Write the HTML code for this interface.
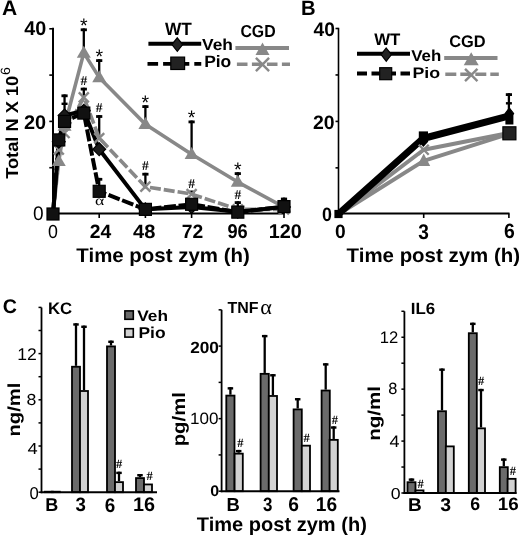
<!DOCTYPE html>
<html><head><meta charset="utf-8"><style>
html,body{margin:0;padding:0;background:#fff;}
svg{display:block;font-family:"Liberation Sans", sans-serif;text-rendering:geometricPrecision;filter:blur(0.4px);}
</style></head><body>
<svg width="520" height="536" viewBox="0 0 520 536">
<rect width="520" height="536" fill="#fff"/>
<text x="2.10" y="14.63" font-size="21.17" font-weight="bold" textLength="15.19" lengthAdjust="spacingAndGlyphs">A</text>
<text x="24.21" y="35.37" font-size="19.84" font-weight="bold" textLength="22.00" lengthAdjust="spacingAndGlyphs">40</text>
<text x="24.04" y="128.54" font-size="19.67" font-weight="bold" textLength="22.16" lengthAdjust="spacingAndGlyphs">20</text>
<text x="33.06" y="220.49" font-size="19.58" font-weight="normal" textLength="10.62" lengthAdjust="spacingAndGlyphs">0</text>
<text x="47.93" y="238.13" font-size="18.85" font-weight="normal" textLength="9.90" lengthAdjust="spacingAndGlyphs">0</text>
<text x="89.89" y="237.61" font-size="19.22" font-weight="bold" textLength="21.47" lengthAdjust="spacingAndGlyphs">24</text>
<text x="132.96" y="237.87" font-size="19.19" font-weight="bold" textLength="22.36" lengthAdjust="spacingAndGlyphs">48</text>
<text x="181.87" y="237.61" font-size="19.27" font-weight="bold" textLength="21.47" lengthAdjust="spacingAndGlyphs">72</text>
<text x="227.42" y="237.95" font-size="19.96" font-weight="bold" textLength="20.25" lengthAdjust="spacingAndGlyphs">96</text>
<text x="268.79" y="238.15" font-size="19.85" font-weight="bold" textLength="33.10" lengthAdjust="spacingAndGlyphs">120</text>
<text x="76.33" y="262.33" font-size="19.80" font-weight="bold" textLength="173.44" lengthAdjust="spacingAndGlyphs">Time post zym (h)</text>
<text x="0" y="0" font-size="17.34" font-weight="bold" textLength="102.97" lengthAdjust="spacingAndGlyphs" transform="translate(17.63 178.84) rotate(-90)">Total N X 10</text>
<text x="0" y="0" font-size="13.49" font-weight="normal" textLength="7.98" lengthAdjust="spacingAndGlyphs" transform="translate(9.89 75.12) rotate(-90)">6</text>
<text x="164.92" y="35.39" font-size="17.80" font-weight="bold" textLength="26.82" lengthAdjust="spacingAndGlyphs">WT</text>
<text x="240.40" y="36.85" font-size="17.38" font-weight="bold" textLength="35.18" lengthAdjust="spacingAndGlyphs">CGD</text>
<text x="202.02" y="50.28" font-size="15.94" font-weight="bold" textLength="30.91" lengthAdjust="spacingAndGlyphs">Veh</text>
<text x="204.15" y="67.07" font-size="16.53" font-weight="bold" textLength="27.15" lengthAdjust="spacingAndGlyphs">Pio</text>
<line x1="53.00" y1="27.80" x2="53.00" y2="214.50" stroke="#000" stroke-width="2" stroke-linecap="butt"/>
<line x1="52.00" y1="213.50" x2="284.50" y2="213.50" stroke="#000" stroke-width="2" stroke-linecap="butt"/>
<line x1="49.30" y1="28.80" x2="53.00" y2="28.80" stroke="#000" stroke-width="1.6" stroke-linecap="butt"/>
<line x1="49.30" y1="75.10" x2="53.00" y2="75.10" stroke="#000" stroke-width="1.6" stroke-linecap="butt"/>
<line x1="49.30" y1="121.40" x2="53.00" y2="121.40" stroke="#000" stroke-width="1.6" stroke-linecap="butt"/>
<line x1="49.30" y1="167.70" x2="53.00" y2="167.70" stroke="#000" stroke-width="1.6" stroke-linecap="butt"/>
<line x1="49.30" y1="214.00" x2="53.00" y2="214.00" stroke="#000" stroke-width="1.6" stroke-linecap="butt"/>
<line x1="53.00" y1="213.50" x2="53.00" y2="218.00" stroke="#000" stroke-width="1.6" stroke-linecap="butt"/>
<line x1="99.20" y1="213.50" x2="99.20" y2="218.00" stroke="#000" stroke-width="1.6" stroke-linecap="butt"/>
<line x1="145.40" y1="213.50" x2="145.40" y2="218.00" stroke="#000" stroke-width="1.6" stroke-linecap="butt"/>
<line x1="191.60" y1="213.50" x2="191.60" y2="218.00" stroke="#000" stroke-width="1.6" stroke-linecap="butt"/>
<line x1="237.80" y1="213.50" x2="237.80" y2="218.00" stroke="#000" stroke-width="1.6" stroke-linecap="butt"/>
<line x1="284.00" y1="213.50" x2="284.00" y2="218.00" stroke="#000" stroke-width="1.6" stroke-linecap="butt"/>
<line x1="83.80" y1="52.88" x2="83.80" y2="28.40" stroke="#000" stroke-width="2.3" stroke-linecap="butt"/>
<line x1="80.70" y1="29.80" x2="86.90" y2="29.80" stroke="#000" stroke-width="2.8" stroke-linecap="butt"/>
<line x1="99.20" y1="77.41" x2="99.20" y2="59.20" stroke="#000" stroke-width="2.3" stroke-linecap="butt"/>
<line x1="96.10" y1="60.60" x2="102.30" y2="60.60" stroke="#000" stroke-width="2.8" stroke-linecap="butt"/>
<line x1="145.40" y1="124.18" x2="145.40" y2="105.20" stroke="#000" stroke-width="2.3" stroke-linecap="butt"/>
<line x1="142.30" y1="106.60" x2="148.50" y2="106.60" stroke="#000" stroke-width="2.8" stroke-linecap="butt"/>
<line x1="191.60" y1="154.27" x2="191.60" y2="120.50" stroke="#000" stroke-width="2.3" stroke-linecap="butt"/>
<line x1="188.50" y1="121.90" x2="194.70" y2="121.90" stroke="#000" stroke-width="2.8" stroke-linecap="butt"/>
<line x1="237.80" y1="182.05" x2="237.80" y2="172.20" stroke="#000" stroke-width="2.3" stroke-linecap="butt"/>
<line x1="234.70" y1="173.60" x2="240.90" y2="173.60" stroke="#000" stroke-width="2.8" stroke-linecap="butt"/>
<line x1="83.80" y1="97.32" x2="83.80" y2="87.70" stroke="#000" stroke-width="2.3" stroke-linecap="butt"/>
<line x1="80.70" y1="89.10" x2="86.90" y2="89.10" stroke="#000" stroke-width="2.8" stroke-linecap="butt"/>
<line x1="99.20" y1="138.07" x2="99.20" y2="115.10" stroke="#000" stroke-width="2.3" stroke-linecap="butt"/>
<line x1="96.10" y1="116.50" x2="102.30" y2="116.50" stroke="#000" stroke-width="2.8" stroke-linecap="butt"/>
<line x1="145.40" y1="186.68" x2="145.40" y2="172.80" stroke="#000" stroke-width="2.3" stroke-linecap="butt"/>
<line x1="142.30" y1="174.20" x2="148.50" y2="174.20" stroke="#000" stroke-width="2.8" stroke-linecap="butt"/>
<line x1="191.60" y1="194.09" x2="191.60" y2="190.70" stroke="#000" stroke-width="2.3" stroke-linecap="butt"/>
<line x1="188.50" y1="192.10" x2="194.70" y2="192.10" stroke="#000" stroke-width="2.8" stroke-linecap="butt"/>
<line x1="237.80" y1="209.37" x2="237.80" y2="201.20" stroke="#000" stroke-width="2.3" stroke-linecap="butt"/>
<line x1="234.70" y1="202.60" x2="240.90" y2="202.60" stroke="#000" stroke-width="2.8" stroke-linecap="butt"/>
<line x1="64.55" y1="116.77" x2="64.55" y2="94.40" stroke="#000" stroke-width="2.3" stroke-linecap="butt"/>
<line x1="61.45" y1="95.80" x2="67.65" y2="95.80" stroke="#000" stroke-width="2.8" stroke-linecap="butt"/>
<line x1="61.55" y1="103.80" x2="67.55" y2="103.80" stroke="#000" stroke-width="2.4" stroke-linecap="butt"/>
<line x1="99.20" y1="190.85" x2="99.20" y2="177.90" stroke="#000" stroke-width="2.3" stroke-linecap="butt"/>
<line x1="96.10" y1="179.30" x2="102.30" y2="179.30" stroke="#000" stroke-width="2.8" stroke-linecap="butt"/>
<line x1="284.00" y1="207.06" x2="284.00" y2="197.60" stroke="#000" stroke-width="2.3" stroke-linecap="butt"/>
<line x1="280.90" y1="199.00" x2="287.10" y2="199.00" stroke="#000" stroke-width="2.8" stroke-linecap="butt"/>
<polyline points="53.00,214.00 58.77,161.22 64.55,126.03 83.80,52.88 99.20,77.41 145.40,124.18 191.60,154.27 237.80,182.05 284.00,207.06" fill="none" stroke="#888888" stroke-width="3.6" stroke-linejoin="round"/>
<polyline points="53.00,214.00 58.77,149.64 64.55,132.98 83.80,97.32 99.20,138.07 145.40,186.68 191.60,194.09 237.80,209.37 284.00,209.37" fill="none" stroke="#888888" stroke-width="3.6" stroke-linejoin="round" stroke-dasharray="11 3" stroke-dashoffset="0"/>
<polyline points="53.00,214.00 58.77,139.92 64.55,121.40 83.80,113.07 99.20,191.31 145.40,209.37 191.60,204.28 237.80,212.15 284.00,206.59" fill="none" stroke="#000" stroke-width="4" stroke-linejoin="round" stroke-dasharray="12 2.6" stroke-dashoffset="0"/>
<polyline points="53.00,214.00 58.77,141.77 64.55,115.38 83.80,110.75 99.20,149.18 145.40,209.37 191.60,207.06 237.80,211.69 284.00,207.06" fill="none" stroke="#000" stroke-width="4" stroke-linejoin="round"/>
<polygon points="58.77,154.02 65.78,166.02 51.77,166.02" fill="#888888"/>
<polygon points="64.55,118.83 71.55,130.83 57.55,130.83" fill="#888888"/>
<polygon points="83.80,45.68 90.80,57.68 76.80,57.68" fill="#888888"/>
<polygon points="99.20,70.21 106.20,82.21 92.20,82.21" fill="#888888"/>
<polygon points="145.40,116.98 152.40,128.98 138.40,128.98" fill="#888888"/>
<polygon points="191.60,147.07 198.60,159.07 184.60,159.07" fill="#888888"/>
<polygon points="237.80,174.85 244.80,186.85 230.80,186.85" fill="#888888"/>
<polygon points="284.00,199.86 291.00,211.86 277.00,211.86" fill="#888888"/>
<line x1="53.77" y1="144.64" x2="63.77" y2="154.64" stroke="#888888" stroke-width="2.4" stroke-linecap="butt"/>
<line x1="53.77" y1="154.64" x2="63.77" y2="144.64" stroke="#888888" stroke-width="2.4" stroke-linecap="butt"/>
<line x1="59.55" y1="127.98" x2="69.55" y2="137.98" stroke="#888888" stroke-width="2.4" stroke-linecap="butt"/>
<line x1="59.55" y1="137.98" x2="69.55" y2="127.98" stroke="#888888" stroke-width="2.4" stroke-linecap="butt"/>
<line x1="78.80" y1="92.32" x2="88.80" y2="102.32" stroke="#888888" stroke-width="2.4" stroke-linecap="butt"/>
<line x1="78.80" y1="102.32" x2="88.80" y2="92.32" stroke="#888888" stroke-width="2.4" stroke-linecap="butt"/>
<line x1="94.20" y1="133.07" x2="104.20" y2="143.07" stroke="#888888" stroke-width="2.4" stroke-linecap="butt"/>
<line x1="94.20" y1="143.07" x2="104.20" y2="133.07" stroke="#888888" stroke-width="2.4" stroke-linecap="butt"/>
<line x1="140.40" y1="181.68" x2="150.40" y2="191.68" stroke="#888888" stroke-width="2.4" stroke-linecap="butt"/>
<line x1="140.40" y1="191.68" x2="150.40" y2="181.68" stroke="#888888" stroke-width="2.4" stroke-linecap="butt"/>
<line x1="186.60" y1="189.09" x2="196.60" y2="199.09" stroke="#888888" stroke-width="2.4" stroke-linecap="butt"/>
<line x1="186.60" y1="199.09" x2="196.60" y2="189.09" stroke="#888888" stroke-width="2.4" stroke-linecap="butt"/>
<line x1="232.80" y1="204.37" x2="242.80" y2="214.37" stroke="#888888" stroke-width="2.4" stroke-linecap="butt"/>
<line x1="232.80" y1="214.37" x2="242.80" y2="204.37" stroke="#888888" stroke-width="2.4" stroke-linecap="butt"/>
<line x1="279.00" y1="204.37" x2="289.00" y2="214.37" stroke="#888888" stroke-width="2.4" stroke-linecap="butt"/>
<line x1="279.00" y1="214.37" x2="289.00" y2="204.37" stroke="#888888" stroke-width="2.4" stroke-linecap="butt"/>
<polygon points="58.77,135.37 65.17,141.77 58.77,148.17 52.38,141.77" fill="#1a1a1a" stroke="#000" stroke-width="1.2"/>
<polygon points="64.55,108.98 70.95,115.38 64.55,121.78 58.15,115.38" fill="#1a1a1a" stroke="#000" stroke-width="1.2"/>
<polygon points="83.80,104.35 90.20,110.75 83.80,117.15 77.40,110.75" fill="#1a1a1a" stroke="#000" stroke-width="1.2"/>
<polygon points="99.20,142.78 105.60,149.18 99.20,155.58 92.80,149.18" fill="#1a1a1a" stroke="#000" stroke-width="1.2"/>
<polygon points="145.40,202.97 151.80,209.37 145.40,215.77 139.00,209.37" fill="#1a1a1a" stroke="#000" stroke-width="1.2"/>
<polygon points="191.60,200.66 198.00,207.06 191.60,213.46 185.20,207.06" fill="#1a1a1a" stroke="#000" stroke-width="1.2"/>
<polygon points="237.80,205.28 244.20,211.69 237.80,218.09 231.40,211.69" fill="#1a1a1a" stroke="#000" stroke-width="1.2"/>
<polygon points="284.00,200.66 290.40,207.06 284.00,213.46 277.60,207.06" fill="#1a1a1a" stroke="#000" stroke-width="1.2"/>
<rect x="47.00" y="208.00" width="12.00" height="12.00" fill="#111" stroke="#000" stroke-width="1.2"/>
<rect x="52.77" y="133.92" width="12.00" height="12.00" fill="#111" stroke="#000" stroke-width="1.2"/>
<rect x="58.55" y="115.40" width="12.00" height="12.00" fill="#111" stroke="#000" stroke-width="1.2"/>
<rect x="77.80" y="107.07" width="12.00" height="12.00" fill="#111" stroke="#000" stroke-width="1.2"/>
<rect x="93.20" y="185.31" width="12.00" height="12.00" fill="#111" stroke="#000" stroke-width="1.2"/>
<rect x="139.40" y="203.37" width="12.00" height="12.00" fill="#111" stroke="#000" stroke-width="1.2"/>
<rect x="185.60" y="198.28" width="12.00" height="12.00" fill="#111" stroke="#000" stroke-width="1.2"/>
<rect x="231.80" y="206.15" width="12.00" height="12.00" fill="#111" stroke="#000" stroke-width="1.2"/>
<rect x="278.00" y="200.59" width="12.00" height="12.00" fill="#111" stroke="#000" stroke-width="1.2"/>
<text x="83.80" y="32.30" font-size="19.5" font-weight="normal" text-anchor="middle" fill="#000">*</text>
<text x="99.20" y="63.10" font-size="19.5" font-weight="normal" text-anchor="middle" fill="#000">*</text>
<text x="145.40" y="109.10" font-size="19.5" font-weight="normal" text-anchor="middle" fill="#000">*</text>
<text x="191.60" y="124.40" font-size="19.5" font-weight="normal" text-anchor="middle" fill="#000">*</text>
<text x="237.80" y="176.10" font-size="19.5" font-weight="normal" text-anchor="middle" fill="#000">*</text>
<text x="83.80" y="85.00" font-size="13.5" font-weight="bold" text-anchor="middle" font-family='"Liberation Serif", serif' fill="#000">#</text>
<text x="99.20" y="112.40" font-size="13.5" font-weight="bold" text-anchor="middle" font-family='"Liberation Serif", serif' fill="#000">#</text>
<text x="145.40" y="170.10" font-size="13.5" font-weight="bold" text-anchor="middle" font-family='"Liberation Serif", serif' fill="#000">#</text>
<text x="191.60" y="188.00" font-size="13.5" font-weight="bold" text-anchor="middle" font-family='"Liberation Serif", serif' fill="#000">#</text>
<text x="237.80" y="198.50" font-size="13.5" font-weight="bold" text-anchor="middle" font-family='"Liberation Serif", serif' fill="#000">#</text>
<text x="94.96" y="205.00" font-size="13.65" font-weight="normal" font-family='"Liberation Serif", serif' textLength="9.27" lengthAdjust="spacingAndGlyphs">α</text>
<line x1="148.40" y1="43.80" x2="201.20" y2="43.80" stroke="#000" stroke-width="4" stroke-linecap="butt"/>
<polygon points="177.30,37.80 182.70,44.60 177.30,51.40 171.90,44.60" fill="#222222" stroke="#000" stroke-width="1.2"/>
<line x1="235.40" y1="48.00" x2="289.00" y2="48.00" stroke="#888888" stroke-width="4" stroke-linecap="butt"/>
<polygon points="262.50,42.50 269.50,55.00 255.50,55.00" fill="#888888"/>
<line x1="147.50" y1="63.90" x2="201.25" y2="63.90" stroke="#000" stroke-width="3.8" stroke-linecap="butt" stroke-dasharray="10.6 5"/>
<rect x="170.80" y="57.10" width="13.80" height="12.40" fill="#222222" stroke="#000" stroke-width="1.2"/>
<line x1="236.90" y1="64.25" x2="290.00" y2="64.25" stroke="#888888" stroke-width="3.4" stroke-linecap="butt" stroke-dasharray="10.6 4.4"/>
<line x1="255.90" y1="57.90" x2="269.10" y2="71.10" stroke="#888888" stroke-width="2.4" stroke-linecap="butt"/>
<line x1="255.90" y1="71.10" x2="269.10" y2="57.90" stroke="#888888" stroke-width="2.4" stroke-linecap="butt"/>
<text x="301.07" y="14.60" font-size="20.88" font-weight="bold" textLength="14.59" lengthAdjust="spacingAndGlyphs">B</text>
<text x="313.50" y="35.52" font-size="19.57" font-weight="bold" textLength="21.41" lengthAdjust="spacingAndGlyphs">40</text>
<text x="312.98" y="129.32" font-size="19.46" font-weight="bold" textLength="21.65" lengthAdjust="spacingAndGlyphs">20</text>
<text x="321.96" y="220.83" font-size="19.35" font-weight="bold" textLength="9.95" lengthAdjust="spacingAndGlyphs">0</text>
<text x="334.93" y="238.11" font-size="19.48" font-weight="bold" textLength="10.70" lengthAdjust="spacingAndGlyphs">0</text>
<text x="418.20" y="238.50" font-size="21.09" font-weight="bold" textLength="10.63" lengthAdjust="spacingAndGlyphs">3</text>
<text x="504.00" y="238.36" font-size="20.65" font-weight="bold" textLength="10.80" lengthAdjust="spacingAndGlyphs">6</text>
<text x="346.62" y="262.27" font-size="19.80" font-weight="bold" textLength="173.40" lengthAdjust="spacingAndGlyphs">Time post zym (h)</text>
<text x="374.22" y="45.33" font-size="16.66" font-weight="bold" textLength="26.18" lengthAdjust="spacingAndGlyphs">WT</text>
<text x="449.19" y="46.82" font-size="16.68" font-weight="bold" textLength="36.44" lengthAdjust="spacingAndGlyphs">CGD</text>
<text x="411.19" y="60.72" font-size="15.77" font-weight="bold" textLength="30.00" lengthAdjust="spacingAndGlyphs">Veh</text>
<text x="412.40" y="77.72" font-size="15.33" font-weight="bold" textLength="27.66" lengthAdjust="spacingAndGlyphs">Pio</text>
<line x1="338.50" y1="27.80" x2="338.50" y2="214.50" stroke="#000" stroke-width="1.6" stroke-linecap="butt"/>
<line x1="338.00" y1="213.50" x2="509.50" y2="213.50" stroke="#000" stroke-width="2" stroke-linecap="butt"/>
<line x1="335.50" y1="28.50" x2="338.50" y2="28.50" stroke="#000" stroke-width="1.6" stroke-linecap="butt"/>
<line x1="335.50" y1="74.95" x2="338.50" y2="74.95" stroke="#000" stroke-width="1.6" stroke-linecap="butt"/>
<line x1="335.50" y1="121.40" x2="338.50" y2="121.40" stroke="#000" stroke-width="1.6" stroke-linecap="butt"/>
<line x1="335.50" y1="167.85" x2="338.50" y2="167.85" stroke="#000" stroke-width="1.6" stroke-linecap="butt"/>
<line x1="335.50" y1="214.30" x2="338.50" y2="214.30" stroke="#000" stroke-width="1.6" stroke-linecap="butt"/>
<line x1="338.50" y1="213.50" x2="338.50" y2="218.00" stroke="#000" stroke-width="1.6" stroke-linecap="butt"/>
<line x1="423.70" y1="213.50" x2="423.70" y2="218.00" stroke="#000" stroke-width="1.6" stroke-linecap="butt"/>
<line x1="508.90" y1="213.50" x2="508.90" y2="218.00" stroke="#000" stroke-width="1.6" stroke-linecap="butt"/>
<line x1="508.90" y1="116.76" x2="508.90" y2="93.20" stroke="#000" stroke-width="2.3" stroke-linecap="butt"/>
<line x1="505.80" y1="94.60" x2="512.00" y2="94.60" stroke="#000" stroke-width="2.8" stroke-linecap="butt"/>
<line x1="505.90" y1="103.30" x2="511.90" y2="103.30" stroke="#000" stroke-width="2.4" stroke-linecap="butt"/>
<polyline points="338.50,214.30 423.70,160.88 508.90,133.94" fill="none" stroke="#888888" stroke-width="4" stroke-linejoin="round"/>
<polyline points="338.50,214.30 423.70,149.73 508.90,133.01" fill="none" stroke="#888888" stroke-width="4" stroke-linejoin="round"/>
<polyline points="338.50,214.00 423.00,138.50 509.40,115.80" fill="none" stroke="#000" stroke-width="7" stroke-linejoin="round"/>
<polygon points="423.70,153.38 430.20,165.88 417.20,165.88" fill="#888888"/>
<polygon points="508.90,126.44 515.40,138.94 502.40,138.94" fill="#888888"/>
<line x1="418.70" y1="144.73" x2="428.70" y2="154.73" stroke="#888888" stroke-width="2.4" stroke-linecap="butt"/>
<line x1="418.70" y1="154.73" x2="428.70" y2="144.73" stroke="#888888" stroke-width="2.4" stroke-linecap="butt"/>
<line x1="503.90" y1="128.01" x2="513.90" y2="138.01" stroke="#888888" stroke-width="2.4" stroke-linecap="butt"/>
<line x1="503.90" y1="138.01" x2="513.90" y2="128.01" stroke="#888888" stroke-width="2.4" stroke-linecap="butt"/>
<polygon points="509.40,108.00 513.60,113.50 509.40,119.00 505.20,113.50" fill="#000" stroke="#000" stroke-width="1.2"/>
<rect x="505.40" y="113.00" width="8.00" height="11.50" fill="#000"/>
<rect x="419.40" y="132.00" width="8.00" height="8.00" fill="#000" stroke="#000" stroke-width="1.2"/>
<polygon points="423.40,136.00 428.40,141.50 423.40,147.00 418.40,141.50" fill="#000" stroke="#000" stroke-width="0"/>
<rect x="502.90" y="126.80" width="13.00" height="13.00" fill="#222222" stroke="#000" stroke-width="1.2"/>
<rect x="335.00" y="210.50" width="7.00" height="7.00" fill="#000" stroke="#000" stroke-width="1.2"/>
<line x1="357.00" y1="53.80" x2="410.00" y2="53.80" stroke="#000" stroke-width="4" stroke-linecap="butt"/>
<polygon points="386.25,48.00 391.45,54.60 386.25,61.20 381.05,54.60" fill="#222222" stroke="#000" stroke-width="1.2"/>
<line x1="444.20" y1="58.00" x2="497.50" y2="58.00" stroke="#888888" stroke-width="3.8" stroke-linecap="butt"/>
<polygon points="471.20,52.20 478.70,65.20 463.70,65.20" fill="#888888"/>
<line x1="357.00" y1="73.50" x2="410.00" y2="73.50" stroke="#000" stroke-width="4" stroke-linecap="butt" stroke-dasharray="10 4.5"/>
<rect x="379.70" y="67.70" width="12.00" height="12.00" fill="#222222" stroke="#000" stroke-width="1.2"/>
<line x1="445.30" y1="74.25" x2="498.80" y2="74.25" stroke="#888888" stroke-width="3.4" stroke-linecap="butt" stroke-dasharray="11 4"/>
<line x1="465.05" y1="68.80" x2="477.45" y2="81.20" stroke="#888888" stroke-width="2.4" stroke-linecap="butt"/>
<line x1="465.05" y1="81.20" x2="477.45" y2="68.80" stroke="#888888" stroke-width="2.4" stroke-linecap="butt"/>
<text x="2.65" y="313.34" font-size="19.79" font-weight="bold" textLength="14.18" lengthAdjust="spacingAndGlyphs">C</text>
<text x="48.03" y="313.60" font-size="16.67" font-weight="bold" textLength="24.17" lengthAdjust="spacingAndGlyphs">KC</text>
<text x="17.16" y="359.61" font-size="16.95" font-weight="normal" textLength="19.56" lengthAdjust="spacingAndGlyphs">12</text>
<text x="26.62" y="405.20" font-size="15.99" font-weight="normal" textLength="9.87" lengthAdjust="spacingAndGlyphs">8</text>
<text x="27.56" y="453.64" font-size="16.17" font-weight="normal" textLength="10.18" lengthAdjust="spacingAndGlyphs">4</text>
<text x="29.60" y="499.18" font-size="17.15" font-weight="normal" textLength="9.29" lengthAdjust="spacingAndGlyphs">0</text>
<text x="0" y="0" font-size="17.44" font-weight="bold" textLength="53.67" lengthAdjust="spacingAndGlyphs" transform="translate(19.53 436.42) rotate(-90)">ng/ml</text>
<text x="137.30" y="320.61" font-size="15.36" font-weight="bold" textLength="30.74" lengthAdjust="spacingAndGlyphs">Veh</text>
<text x="138.45" y="338.24" font-size="15.82" font-weight="bold" textLength="27.11" lengthAdjust="spacingAndGlyphs">Pio</text>
<text x="45.14" y="511.23" font-size="18.64" font-weight="bold" textLength="13.02" lengthAdjust="spacingAndGlyphs">B</text>
<text x="75.45" y="511.28" font-size="19.41" font-weight="bold" textLength="10.38" lengthAdjust="spacingAndGlyphs">3</text>
<text x="104.85" y="511.57" font-size="19.76" font-weight="bold" textLength="10.50" lengthAdjust="spacingAndGlyphs">6</text>
<text x="132.91" y="511.27" font-size="19.75" font-weight="bold" textLength="22.02" lengthAdjust="spacingAndGlyphs">16</text>
<text x="227.58" y="313.49" font-size="16.04" font-weight="bold" textLength="31.05" lengthAdjust="spacingAndGlyphs">TNF</text>
<text x="190.19" y="352.57" font-size="16.29" font-weight="bold" textLength="28.76" lengthAdjust="spacingAndGlyphs">200</text>
<text x="190.13" y="424.42" font-size="16.35" font-weight="normal" textLength="28.46" lengthAdjust="spacingAndGlyphs">100</text>
<text x="210.35" y="496.37" font-size="15.34" font-weight="bold" textLength="8.92" lengthAdjust="spacingAndGlyphs">0</text>
<text x="0" y="0" font-size="18.01" font-weight="bold" textLength="54.28" lengthAdjust="spacingAndGlyphs" transform="translate(184.63 446.35) rotate(-90)">pg/ml</text>
<text x="226.39" y="510.87" font-size="18.74" font-weight="bold" textLength="13.34" lengthAdjust="spacingAndGlyphs">B</text>
<text x="263.08" y="510.72" font-size="19.47" font-weight="bold" textLength="9.42" lengthAdjust="spacingAndGlyphs">3</text>
<text x="288.15" y="511.33" font-size="19.98" font-weight="bold" textLength="10.67" lengthAdjust="spacingAndGlyphs">6</text>
<text x="315.81" y="511.37" font-size="19.84" font-weight="bold" textLength="21.31" lengthAdjust="spacingAndGlyphs">16</text>
<text x="196.84" y="530.61" font-size="19.80" font-weight="bold" textLength="169.98" lengthAdjust="spacingAndGlyphs">Time post zym (h)</text>
<text x="410.81" y="313.54" font-size="16.20" font-weight="bold" textLength="24.40" lengthAdjust="spacingAndGlyphs">IL6</text>
<text x="379.87" y="343.31" font-size="16.76" font-weight="normal" textLength="18.49" lengthAdjust="spacingAndGlyphs">12</text>
<text x="388.28" y="394.31" font-size="16.36" font-weight="normal" textLength="9.13" lengthAdjust="spacingAndGlyphs">8</text>
<text x="389.50" y="446.50" font-size="16.68" font-weight="normal" textLength="10.05" lengthAdjust="spacingAndGlyphs">4</text>
<text x="390.69" y="498.95" font-size="15.81" font-weight="normal" textLength="9.87" lengthAdjust="spacingAndGlyphs">0</text>
<text x="0" y="0" font-size="17.31" font-weight="bold" textLength="54.94" lengthAdjust="spacingAndGlyphs" transform="translate(379.85 440.84) rotate(-90)">ng/ml</text>
<text x="407.94" y="510.73" font-size="18.49" font-weight="bold" textLength="13.72" lengthAdjust="spacingAndGlyphs">B</text>
<text x="440.15" y="510.50" font-size="18.47" font-weight="bold" textLength="10.84" lengthAdjust="spacingAndGlyphs">3</text>
<text x="470.28" y="510.23" font-size="18.13" font-weight="bold" textLength="9.84" lengthAdjust="spacingAndGlyphs">6</text>
<text x="497.86" y="510.32" font-size="18.02" font-weight="bold" textLength="20.89" lengthAdjust="spacingAndGlyphs">16</text>
<rect x="44.80" y="491.70" width="8.00" height="0.50" fill="#6b6b6b" stroke="#000" stroke-width="1.8"/>
<rect x="51.80" y="491.70" width="8.00" height="0.50" fill="#d2d2d2" stroke="#000" stroke-width="1.8"/>
<line x1="76.00" y1="365.84" x2="76.00" y2="323.27" stroke="#000" stroke-width="2.3" stroke-linecap="butt"/>
<line x1="73.25" y1="324.47" x2="78.75" y2="324.47" stroke="#000" stroke-width="2.4" stroke-linecap="butt"/>
<line x1="84.00" y1="390.10" x2="84.00" y2="325.58" stroke="#000" stroke-width="2.3" stroke-linecap="butt"/>
<line x1="81.25" y1="326.78" x2="86.75" y2="326.78" stroke="#000" stroke-width="2.4" stroke-linecap="butt"/>
<rect x="72.00" y="366.74" width="8.00" height="125.46" fill="#6b6b6b" stroke="#000" stroke-width="1.8"/>
<rect x="80.00" y="391.00" width="8.00" height="101.20" fill="#d2d2d2" stroke="#000" stroke-width="1.8"/>
<line x1="111.00" y1="345.51" x2="111.00" y2="340.59" stroke="#000" stroke-width="2.3" stroke-linecap="butt"/>
<line x1="108.25" y1="341.79" x2="113.75" y2="341.79" stroke="#000" stroke-width="2.4" stroke-linecap="butt"/>
<line x1="119.00" y1="481.23" x2="119.00" y2="471.69" stroke="#000" stroke-width="2.3" stroke-linecap="butt"/>
<line x1="116.25" y1="472.89" x2="121.75" y2="472.89" stroke="#000" stroke-width="2.4" stroke-linecap="butt"/>
<rect x="107.00" y="346.41" width="8.00" height="145.79" fill="#6b6b6b" stroke="#000" stroke-width="1.8"/>
<rect x="115.00" y="482.13" width="8.00" height="10.07" fill="#d2d2d2" stroke="#000" stroke-width="1.8"/>
<line x1="140.00" y1="477.19" x2="140.00" y2="474.00" stroke="#000" stroke-width="2.3" stroke-linecap="butt"/>
<line x1="137.25" y1="475.20" x2="142.75" y2="475.20" stroke="#000" stroke-width="2.4" stroke-linecap="butt"/>
<rect x="136.00" y="478.08" width="8.00" height="14.12" fill="#6b6b6b" stroke="#000" stroke-width="1.8"/>
<rect x="144.00" y="484.44" width="8.00" height="7.76" fill="#d2d2d2" stroke="#000" stroke-width="1.8"/>
<line x1="41.50" y1="307.50" x2="41.50" y2="493.20" stroke="#000" stroke-width="1.8" stroke-linecap="butt"/>
<line x1="40.60" y1="492.20" x2="157.00" y2="492.20" stroke="#000" stroke-width="2" stroke-linecap="butt"/>
<line x1="38.50" y1="307.40" x2="41.50" y2="307.40" stroke="#000" stroke-width="1.5" stroke-linecap="butt"/>
<line x1="38.50" y1="330.50" x2="41.50" y2="330.50" stroke="#000" stroke-width="1.5" stroke-linecap="butt"/>
<line x1="38.50" y1="353.60" x2="41.50" y2="353.60" stroke="#000" stroke-width="1.5" stroke-linecap="butt"/>
<line x1="38.50" y1="376.70" x2="41.50" y2="376.70" stroke="#000" stroke-width="1.5" stroke-linecap="butt"/>
<line x1="38.50" y1="399.80" x2="41.50" y2="399.80" stroke="#000" stroke-width="1.5" stroke-linecap="butt"/>
<line x1="38.50" y1="422.90" x2="41.50" y2="422.90" stroke="#000" stroke-width="1.5" stroke-linecap="butt"/>
<line x1="38.50" y1="446.00" x2="41.50" y2="446.00" stroke="#000" stroke-width="1.5" stroke-linecap="butt"/>
<line x1="38.50" y1="469.10" x2="41.50" y2="469.10" stroke="#000" stroke-width="1.5" stroke-linecap="butt"/>
<line x1="38.50" y1="492.20" x2="41.50" y2="492.20" stroke="#000" stroke-width="1.5" stroke-linecap="butt"/>
<text x="119.20" y="467.70" font-size="12.5" font-weight="bold" text-anchor="middle" font-family='"Liberation Serif", serif' fill="#000">#</text>
<text x="149.60" y="480.30" font-size="12.5" font-weight="bold" text-anchor="middle" font-family='"Liberation Serif", serif' fill="#000">#</text>
<rect x="124.90" y="310.90" width="8.40" height="8.40" fill="#6b6b6b" stroke="#000" stroke-width="1.6"/>
<rect x="124.90" y="328.70" width="8.40" height="8.40" fill="#d2d2d2" stroke="#000" stroke-width="1.6"/>
<line x1="230.40" y1="394.71" x2="230.40" y2="387.15" stroke="#000" stroke-width="2.3" stroke-linecap="butt"/>
<line x1="227.65" y1="388.35" x2="233.15" y2="388.35" stroke="#000" stroke-width="2.4" stroke-linecap="butt"/>
<line x1="238.70" y1="452.75" x2="238.70" y2="449.91" stroke="#000" stroke-width="2.3" stroke-linecap="butt"/>
<line x1="235.95" y1="451.11" x2="241.45" y2="451.11" stroke="#000" stroke-width="2.4" stroke-linecap="butt"/>
<rect x="226.30" y="395.61" width="8.20" height="95.59" fill="#6b6b6b" stroke="#000" stroke-width="1.8"/>
<rect x="234.60" y="453.65" width="8.20" height="37.55" fill="#d2d2d2" stroke="#000" stroke-width="1.8"/>
<line x1="264.70" y1="372.94" x2="264.70" y2="334.92" stroke="#000" stroke-width="2.3" stroke-linecap="butt"/>
<line x1="261.95" y1="336.12" x2="267.45" y2="336.12" stroke="#000" stroke-width="2.4" stroke-linecap="butt"/>
<line x1="272.90" y1="395.07" x2="272.90" y2="374.09" stroke="#000" stroke-width="2.3" stroke-linecap="butt"/>
<line x1="270.15" y1="375.29" x2="275.65" y2="375.29" stroke="#000" stroke-width="2.4" stroke-linecap="butt"/>
<rect x="260.60" y="373.84" width="8.20" height="117.36" fill="#6b6b6b" stroke="#000" stroke-width="1.8"/>
<rect x="268.80" y="395.97" width="8.20" height="95.23" fill="#d2d2d2" stroke="#000" stroke-width="1.8"/>
<line x1="297.70" y1="408.49" x2="297.70" y2="398.04" stroke="#000" stroke-width="2.3" stroke-linecap="butt"/>
<line x1="294.95" y1="399.24" x2="300.45" y2="399.24" stroke="#000" stroke-width="2.4" stroke-linecap="butt"/>
<rect x="293.60" y="409.39" width="8.20" height="81.81" fill="#6b6b6b" stroke="#000" stroke-width="1.8"/>
<rect x="301.80" y="445.67" width="8.20" height="45.53" fill="#d2d2d2" stroke="#000" stroke-width="1.8"/>
<line x1="325.70" y1="389.63" x2="325.70" y2="363.21" stroke="#000" stroke-width="2.3" stroke-linecap="butt"/>
<line x1="322.95" y1="364.41" x2="328.45" y2="364.41" stroke="#000" stroke-width="2.4" stroke-linecap="butt"/>
<line x1="333.70" y1="438.96" x2="333.70" y2="426.33" stroke="#000" stroke-width="2.3" stroke-linecap="butt"/>
<line x1="330.95" y1="427.53" x2="336.45" y2="427.53" stroke="#000" stroke-width="2.4" stroke-linecap="butt"/>
<rect x="321.60" y="390.53" width="8.20" height="100.67" fill="#6b6b6b" stroke="#000" stroke-width="1.8"/>
<rect x="329.60" y="439.86" width="8.20" height="51.34" fill="#d2d2d2" stroke="#000" stroke-width="1.8"/>
<line x1="221.60" y1="309.80" x2="221.60" y2="492.20" stroke="#000" stroke-width="1.8" stroke-linecap="butt"/>
<line x1="220.70" y1="491.20" x2="339.50" y2="491.20" stroke="#000" stroke-width="2" stroke-linecap="butt"/>
<line x1="218.60" y1="309.82" x2="221.60" y2="309.82" stroke="#000" stroke-width="1.5" stroke-linecap="butt"/>
<line x1="218.60" y1="346.10" x2="221.60" y2="346.10" stroke="#000" stroke-width="1.5" stroke-linecap="butt"/>
<line x1="218.60" y1="382.38" x2="221.60" y2="382.38" stroke="#000" stroke-width="1.5" stroke-linecap="butt"/>
<line x1="218.60" y1="418.65" x2="221.60" y2="418.65" stroke="#000" stroke-width="1.5" stroke-linecap="butt"/>
<line x1="218.60" y1="454.93" x2="221.60" y2="454.93" stroke="#000" stroke-width="1.5" stroke-linecap="butt"/>
<line x1="218.60" y1="491.20" x2="221.60" y2="491.20" stroke="#000" stroke-width="1.5" stroke-linecap="butt"/>
<text x="260.35" y="314.35" font-size="21.00" font-weight="normal" font-family='"Liberation Serif", serif' textLength="11.65" lengthAdjust="spacingAndGlyphs">α</text>
<text x="240.30" y="447.00" font-size="12.5" font-weight="bold" text-anchor="middle" font-family='"Liberation Serif", serif' fill="#000">#</text>
<text x="306.70" y="442.00" font-size="12.5" font-weight="bold" text-anchor="middle" font-family='"Liberation Serif", serif' fill="#000">#</text>
<text x="334.90" y="424.10" font-size="12.5" font-weight="bold" text-anchor="middle" font-family='"Liberation Serif", serif' fill="#000">#</text>
<line x1="411.50" y1="481.32" x2="411.50" y2="478.42" stroke="#000" stroke-width="2.3" stroke-linecap="butt"/>
<line x1="408.75" y1="479.62" x2="414.25" y2="479.62" stroke="#000" stroke-width="2.4" stroke-linecap="butt"/>
<rect x="407.50" y="482.22" width="8.00" height="10.78" fill="#6b6b6b" stroke="#000" stroke-width="1.8"/>
<rect x="415.50" y="490.40" width="8.00" height="2.60" fill="#d2d2d2" stroke="#000" stroke-width="1.8"/>
<line x1="442.00" y1="410.32" x2="442.00" y2="368.48" stroke="#000" stroke-width="2.3" stroke-linecap="butt"/>
<line x1="439.25" y1="369.68" x2="444.75" y2="369.68" stroke="#000" stroke-width="2.4" stroke-linecap="butt"/>
<rect x="438.00" y="411.22" width="8.00" height="81.78" fill="#6b6b6b" stroke="#000" stroke-width="1.8"/>
<rect x="445.80" y="446.39" width="8.00" height="46.61" fill="#d2d2d2" stroke="#000" stroke-width="1.8"/>
<line x1="472.80" y1="332.31" x2="472.80" y2="322.66" stroke="#000" stroke-width="2.3" stroke-linecap="butt"/>
<line x1="470.05" y1="323.86" x2="475.55" y2="323.86" stroke="#000" stroke-width="2.4" stroke-linecap="butt"/>
<line x1="481.00" y1="427.45" x2="481.00" y2="388.86" stroke="#000" stroke-width="2.3" stroke-linecap="butt"/>
<line x1="478.25" y1="390.06" x2="483.75" y2="390.06" stroke="#000" stroke-width="2.4" stroke-linecap="butt"/>
<rect x="468.80" y="333.21" width="8.00" height="159.79" fill="#6b6b6b" stroke="#000" stroke-width="1.8"/>
<rect x="477.00" y="428.35" width="8.00" height="64.65" fill="#d2d2d2" stroke="#000" stroke-width="1.8"/>
<line x1="503.80" y1="466.26" x2="503.80" y2="458.43" stroke="#000" stroke-width="2.3" stroke-linecap="butt"/>
<line x1="501.05" y1="459.63" x2="506.55" y2="459.63" stroke="#000" stroke-width="2.4" stroke-linecap="butt"/>
<rect x="499.80" y="467.16" width="8.00" height="25.84" fill="#6b6b6b" stroke="#000" stroke-width="1.8"/>
<rect x="507.60" y="478.84" width="8.00" height="14.16" fill="#d2d2d2" stroke="#000" stroke-width="1.8"/>
<line x1="404.40" y1="311.30" x2="404.40" y2="494.00" stroke="#000" stroke-width="1.8" stroke-linecap="butt"/>
<line x1="403.50" y1="493.00" x2="516.50" y2="493.00" stroke="#000" stroke-width="2" stroke-linecap="butt"/>
<line x1="401.40" y1="311.28" x2="404.40" y2="311.28" stroke="#000" stroke-width="1.5" stroke-linecap="butt"/>
<line x1="401.40" y1="337.24" x2="404.40" y2="337.24" stroke="#000" stroke-width="1.5" stroke-linecap="butt"/>
<line x1="401.40" y1="363.20" x2="404.40" y2="363.20" stroke="#000" stroke-width="1.5" stroke-linecap="butt"/>
<line x1="401.40" y1="389.16" x2="404.40" y2="389.16" stroke="#000" stroke-width="1.5" stroke-linecap="butt"/>
<line x1="401.40" y1="415.12" x2="404.40" y2="415.12" stroke="#000" stroke-width="1.5" stroke-linecap="butt"/>
<line x1="401.40" y1="441.08" x2="404.40" y2="441.08" stroke="#000" stroke-width="1.5" stroke-linecap="butt"/>
<line x1="401.40" y1="467.04" x2="404.40" y2="467.04" stroke="#000" stroke-width="1.5" stroke-linecap="butt"/>
<line x1="401.40" y1="493.00" x2="404.40" y2="493.00" stroke="#000" stroke-width="1.5" stroke-linecap="butt"/>
<text x="420.60" y="487.50" font-size="12.5" font-weight="bold" text-anchor="middle" font-family='"Liberation Serif", serif' fill="#000">#</text>
<text x="481.10" y="385.00" font-size="12.5" font-weight="bold" text-anchor="middle" font-family='"Liberation Serif", serif' fill="#000">#</text>
<text x="512.90" y="475.00" font-size="12.5" font-weight="bold" text-anchor="middle" font-family='"Liberation Serif", serif' fill="#000">#</text>
</svg></body></html>
